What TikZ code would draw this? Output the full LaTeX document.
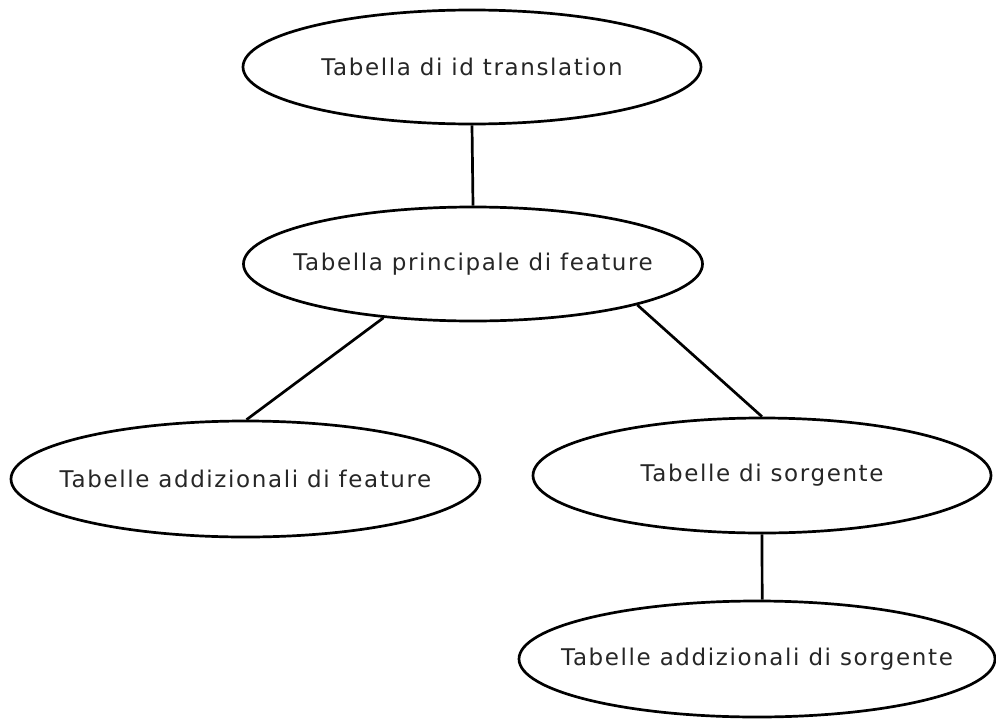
\documentclass[tikz,border=0pt]{standalone}
\usepackage{fontspec}
\setmainfont[LetterSpace=7]{DejaVu Sans}
\usetikzlibrary{shapes.geometric}
\begin{document}
\begin{tikzpicture}[x=1pt,y=-1pt,
  table/.style={ellipse, draw=black, line width=2.7pt, inner sep=0pt},
  caption/.style={text=black!85, font=\fontsize{23}{27}\selectfont, inner sep=0pt},
  link/.style={draw=black, line width=2.7pt}]
  \useasboundingbox (0,0) rectangle (996,720);
  % tables: outline ellipses with their titles at the centre
  \node[table, minimum width=458pt, minimum height=114pt,
    label={[caption]center:Tabella di id translation}] (idt) at (472,67) {};
  \node[table, minimum width=459pt, minimum height=114pt,
    label={[caption]center:Tabella principale di feature}] (main) at (473,264) {};
  \node[table, minimum width=469pt, minimum height=116pt,
    label={[caption]center:Tabelle addizionali di feature}] (addf) at (245.5,479) {};
  \node[table, minimum width=458pt, minimum height=115pt,
    label={[caption]center:Tabelle di sorgente}] (src) at (762,475.5) {};
  \node[table, minimum width=476pt, minimum height=116pt,
    label={[caption]center:Tabelle addizionali di sorgente}] (adds) at (757,659) {};
  % links
  \draw[link] (idt.south) -- (main.north);
  \draw[link] (main.211) -- (addf.89);
  \draw[link] (main.346) -- (src.north);
  \draw[link] (src.south) -- (adds.85);
\end{tikzpicture}
\end{document}
